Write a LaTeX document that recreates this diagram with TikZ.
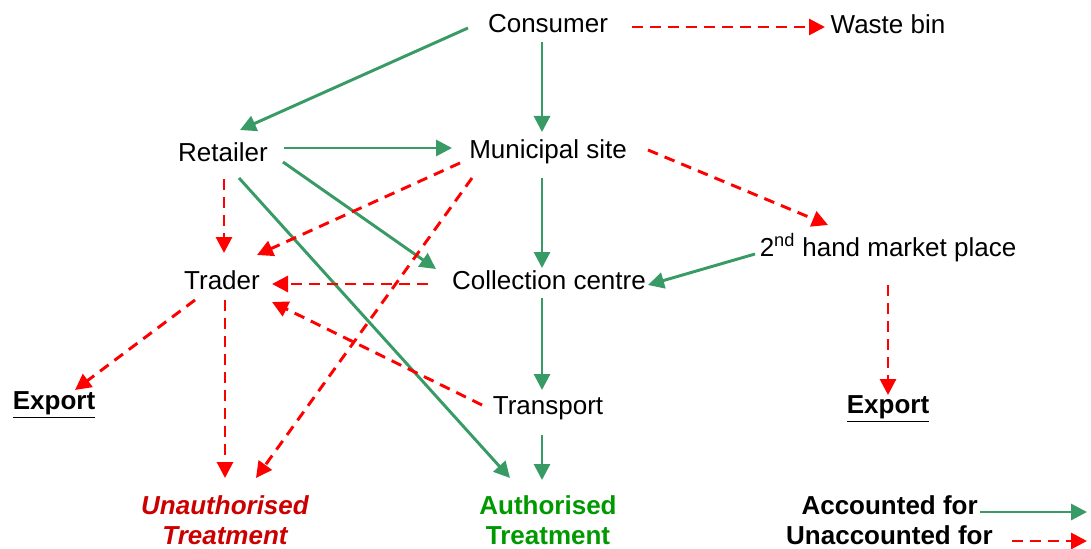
\documentclass[tikz,border=0pt]{standalone}
\usepackage{fontspec}
\setmainfont{Liberation Sans}
\usetikzlibrary{arrows.meta,calc}
\definecolor{lgreen}{RGB}{56,155,101}
\definecolor{lred}{RGB}{255,0,0}
\definecolor{tgreen}{RGB}{0,153,0}
\definecolor{tred}{RGB}{204,0,0}
\begin{document}
\begin{tikzpicture}[x=0.75pt,y=-0.75pt,
  lbl/.style={font=\fontsize{19.5}{22.5}\selectfont, inner sep=0pt, align=center},
  bl/.style={lbl, font=\fontsize{19.5}{22.5}\selectfont\bfseries},
  acc/.style={draw=lgreen, line width=2.2pt, -{Triangle[length=12pt,width=12pt]}},
  unacc/.style={draw=lred, line width=2.2pt, dash pattern=on 8pt off 5.5pt, -{Triangle[length=12pt,width=12pt]}}
]
\useasboundingbox (0,0) rectangle (1091,549);
\fill[white] (0,0) rectangle (1091,549);

% nodes
\node[lbl] (con) at (548,24) {Consumer};
\node[lbl] (waste) at (888,24) {Waste bin};
\node[lbl] (ret) at (223,152) {Retailer};
\node[lbl] (mun) at (548,152) {Municipal site};
\node[lbl] (tra) at (222,280) {Trader};
\node[lbl] (col) at (549,280) {Collection centre};
\node[lbl] (sec) at (888,248) {2\textsuperscript{nd} hand market place};
\node[bl] (expL) at (54,405) {\underline{Export}};
\node[lbl] (trn) at (548,408) {Transport};
\node[bl] (expR) at (888,409) {\underline{Export}};
\node[bl, font=\fontsize{19.5}{22.5}\selectfont\bfseries\itshape, text=tred] (unauth) at (225,520) {Unauthorised\\Treatment};
\node[bl, font=\fontsize{19.5}{22.5}\selectfont\bfseries, text=tgreen] (auth) at (548,520) {Authorised\\Treatment};
\node[bl, anchor=east] (legA) at (978,505) {Accounted for};
\node[bl, anchor=east] (legU) at (993,535) {Unaccounted for};
\coordinate (legAe) at (1087,512);
\coordinate (legUe) at (1087,541);

% accounted (green)
\draw[acc] ($(con)+(-80,4)$) -- ($(ret)+(17,-22)$);
\draw[acc] ($(con)+(-6,18)$) -- ($(mun)+(-6,-20)$);
\draw[acc] ($(ret)+(61,-4)$) -- ($(mun)+(-96,-4)$);
\draw[acc] ($(ret)+(60,10)$) -- ($(col)+(-113,-11)$);
\draw[acc] ($(ret)+(16,26)$) -- ($(auth)+(-38,-42)$);
\draw[acc] ($(mun)+(-6,26)$) -- ($(col)+(-7,-12)$);
\draw[acc] ($(sec)+(-133,6)$) -- ($(col)+(99,5)$);
\draw[acc] ($(col)+(-7,18)$) -- ($(trn)+(-6,-18)$);
\draw[acc] ($(trn)+(-6,27)$) -- ($(auth)+(-6,-40)$);
\draw[acc] ($(legA.east)+(2,7)$) -- (legAe);

% unaccounted (red dashed)
\draw[unacc] ($(con)+(84,3)$) -- ($(waste)+(-63,3)$);
\draw[unacc] ($(ret)+(1,27)$) -- ($(tra)+(2,-27)$);
\draw[unacc] ($(mun)+(-88,11)$) -- ($(tra)+(35,-25)$);
\draw[unacc] ($(mun)+(-76,26)$) -- ($(unauth)+(31,-42)$);
\draw[unacc] ($(mun)+(100,-2)$) -- ($(sec)+(-60,-23)$);
\draw[unacc] ($(sec)+(0,37)$) -- ($(expR)+(0,-14)$);
\draw[unacc] ($(col)+(-121,4)$) -- ($(tra)+(50,4)$);
\draw[unacc] ($(trn)+(-66,-3)$) -- ($(tra)+(50,22)$);
\draw[unacc] ($(tra)+(-27,20)$) -- ($(expL)+(21,-15)$);
\draw[unacc] ($(tra)+(3,20)$) -- ($(unauth)+(0,-42)$);
\draw[unacc] ($(legU.east)+(19,6)$) -- (legUe);
\end{tikzpicture}
\end{document}
